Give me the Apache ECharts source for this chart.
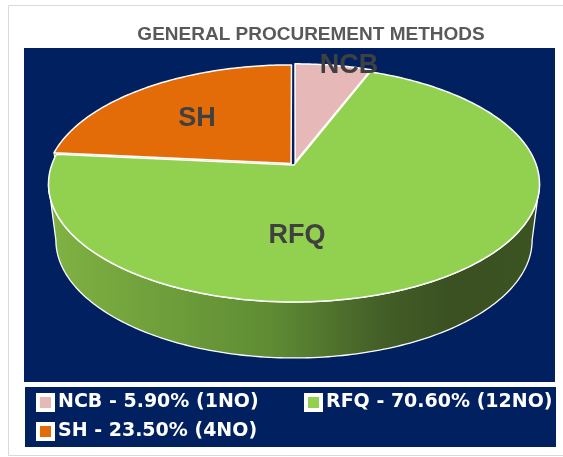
<!DOCTYPE html>
<html>
<head>
<meta charset="utf-8">
<script src="https://cdn.jsdelivr.net/npm/echarts@6/dist/echarts.min.js"></script>
<style>html,body{margin:0;padding:0;background:#fff}#c{width:563px;height:457px}</style>
</head>
<body>
<div id="c"></div>
<script>
// ---- data ----
const categories = ['NCB', 'RFQ', 'SH'];
const percents = [5.9, 70.6, 23.5];
const counts = [1, 12, 4];
const titleText = 'GENERAL PROCUREMENT METHODS';

// ---- style / layout ----
const topColors = ['#E6B9B8', '#92D050', '#E36C09'];
const faceColors = ['#B89896', '#6F9A3C', '#957060'];
const explode = [0.026, 0, 0.018];
const labelPos = [[349, 66], [297, 236], [197, 119]];
const G = { cx: 294, cy: 165, A: 242.3, B: 114.9, p: 0.161, H: 56, shrink: 0.03 };

const total = percents.reduce((a, b) => a + b, 0);
const deg = Math.PI / 180;

function proj(X, Z, h) {
  const w = 1 + G.p * Z;
  return [G.cx + G.A * X / w * (1 - G.shrink * h), G.cy - G.B * Z / w + G.H * h];
}
function rimPt(t, h, off) {
  return proj(Math.sin(t * deg) + off[0], Math.cos(t * deg) + off[1], h);
}
function arcPts(a, b, h, off) {
  const pts = [];
  const n = Math.max(2, Math.ceil(Math.abs(b - a)));
  for (let i = 0; i <= n; i++) pts.push(rimPt(a + (b - a) * i / n, h, off));
  return pts;
}

const wallGrad = new echarts.graphic.LinearGradient(0, 0, 1, 0, [
  { offset: 0, color: '#80B243' },
  { offset: 0.45, color: '#5F8C34' },
  { offset: 0.68, color: '#435E27' },
  { offset: 0.82, color: '#3A5021' },
  { offset: 1, color: '#3C5322' }
]);

const visLo = Math.acos(-G.p) / deg;
const visHi = 360 - visLo;

function makeRender(idx) {
  return function (params, api) {
    const val = api.value(0);
    let start = 0;
    for (let i = 0; i < idx; i++) start += percents[i] / total * 360;
    const end = start + val / total * 360;
    const mid = (start + end) / 2;
    const e = explode[idx];
    const off = [e * Math.sin(mid * deg), e * Math.cos(mid * deg)];
    const children = [];

    const a = Math.max(start, visLo), b = Math.min(end, visHi);
    if (b > a) {
      const pts = arcPts(a, b, 0, off).concat(arcPts(b, a, 1, off));
      children.push({
        type: 'polygon', z2: 1, shape: { points: pts },
        style: { fill: idx === 1 ? wallGrad : faceColors[idx], stroke: '#ffffff', lineWidth: 1.3, lineJoin: 'round' }
      });
    }
    const apexT = proj(off[0], off[1], 0), apexB = proj(off[0], off[1], 1);
    const faces = [];
    if (Math.sin(start * deg) < -1e-6) faces.push(start);
    if (Math.sin(end * deg) > 1e-6) faces.push(end);
    faces.forEach(function (f) {
      children.push({
        type: 'polygon', z2: 2,
        shape: { points: [apexT, rimPt(f, 0, off), rimPt(f, 1, off), apexB] },
        style: { fill: faceColors[idx], stroke: '#ffffff', lineWidth: 1, lineJoin: 'round' }
      });
    });
    const topPts = [apexT].concat(arcPts(start, end, 0, off));
    children.push({
      type: 'polygon', z2: 3, shape: { points: topPts },
      style: { fill: topColors[idx], stroke: '#ffffff', lineWidth: 1.5, lineJoin: 'round' }
    });
    children.push({
      type: 'text', z2: 5,
      style: {
        text: categories[idx], x: labelPos[idx][0], y: labelPos[idx][1],
        fill: '#404040', fontSize: 27, fontWeight: 'bold',
        fontFamily: '"Liberation Sans", sans-serif',
        align: 'center', verticalAlign: 'middle'
      }
    });
    return { type: 'group', children: children };
  };
}

const series = categories.map(function (name, i) {
  return {
    type: 'custom', name: name, coordinateSystem: 'none',
    itemStyle: { color: topColors[i] },
    data: [[percents[i], counts[i]]],
    renderItem: makeRender(i)
  };
});

function legendLabel(name) {
  const i = categories.indexOf(name);
  return name + ' - ' + percents[i].toFixed(2) + '% (' + counts[i] + 'NO)';
}

const chart = echarts.init(document.getElementById('c'), null, { renderer: 'canvas' });
chart.setOption({
  animation: false,
  backgroundColor: '#ffffff',
  graphic: [
    { type: 'rect', z: -10, shape: { x: 8.5, y: 5.5, width: 570, height: 450 }, style: { fill: '#ffffff', stroke: '#D9D9D9', lineWidth: 1 } },
    { type: 'rect', z: -9, shape: { x: 24, y: 48, width: 531, height: 334 }, style: { fill: '#002060' } },
    { type: 'rect', z: -9, shape: { x: 25, y: 387, width: 531, height: 60 }, style: { fill: '#002060' } }
  ],
  title: {
    text: titleText, left: 311, top: 25, textAlign: 'center', padding: 0,
    textStyle: { color: '#595959', fontSize: 19, fontWeight: 'bold', fontFamily: '"Liberation Sans", sans-serif' }
  },
  legend: {
    data: categories, left: 36, top: 392.5, width: 530, padding: 0,
    orient: 'horizontal', itemGap: 9, itemWidth: 15, itemHeight: 15,
    icon: 'rect', selectedMode: false,
    itemStyle: { borderColor: '#ffffff', borderWidth: 4 },
    formatter: legendLabel,
    textStyle: { color: '#ffffff', fontSize: 19, fontWeight: 'bold', fontFamily: '"DejaVu Sans", sans-serif', width: 237, lineHeight: 20 }
  },
  series: series
});
</script>
</body>
</html>
